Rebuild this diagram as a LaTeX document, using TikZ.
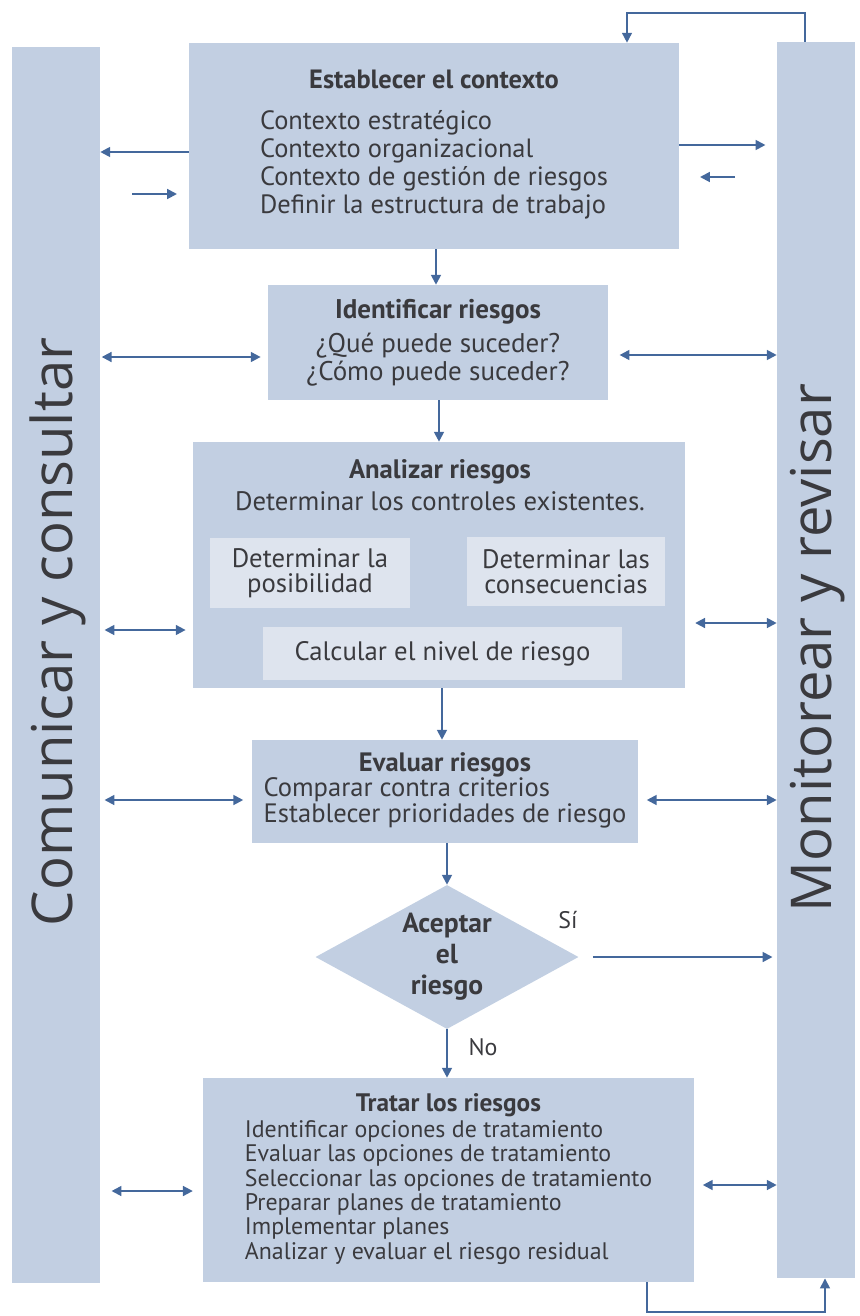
\documentclass[tikz,border=0pt]{standalone}
\usepackage{fontspec}
\setmainfont{PT Sans}
\newfontfamily\barfont{Open Sans}
\usetikzlibrary{shapes.geometric,arrows.meta}
\definecolor{boxblue}{RGB}{194,207,226}
\definecolor{innerblue}{RGB}{222,228,238}
\definecolor{lineblue}{RGB}{68,104,156}
\definecolor{inkgrey}{RGB}{58,58,62}

\begin{document}
\begin{tikzpicture}[x=0.025cm, y=-0.025cm,
    panel/.style={fill=boxblue, inner sep=0pt, text=inkgrey, align=center},
    subpanel/.style={fill=innerblue, inner sep=0pt, text=inkgrey, align=center,
      font=\fontsize{19}{18}\selectfont},
    flow/.style={draw=lineblue, line width=1.4pt, -{Triangle[length=7pt,width=7pt]}},
    both/.style={flow, {Triangle[length=7pt,width=7pt]}-{Triangle[length=7pt,width=7pt]}},
    side/.style={rotate=90, text=inkgrey, font=\barfont\fontsize{40}{44}\selectfont}]
  \useasboundingbox (0,0) rectangle (860,1316);

  % barras laterales
  \node[panel, minimum width=2.2cm, minimum height=30.875cm] (com) at (56,665) {};
  \node[panel, minimum width=1.95cm, minimum height=30.9cm] (mon) at (816,660) {};
  \node[side] (comt) at (58,632) {Comunicar y consultar};
  \node[side] (mont) at (818,648) {Monitorear y revisar};

  % etapas del proceso
  \node[panel, minimum width=12.25cm, minimum height=5.15cm,
    font=\fontsize{18.8}{20}\selectfont] (ctx) at (434,146)
    {\textbf{Establecer el contexto}\\[9pt]
     \begin{tabular}[t]{@{}l@{}}Contexto estratégico\\Contexto organizacional\\
     Contexto de gestión de riesgos\\Definir la estructura de trabajo\end{tabular}};
  \node[panel, minimum width=8.5cm, minimum height=2.875cm,
    font=\fontsize{19.2}{20}\selectfont] (ident) at (438,342.5)
    {\textbf{Identificar riesgos}\\[4pt]¿Qué puede suceder?\\¿Cómo puede suceder?};
  \node[panel, minimum width=12.3cm, minimum height=6.15cm] (anal) at (439,565) {};
  \node[text=inkgrey, align=center, font=\fontsize{19}{23}\selectfont] (analt) at (440,485)
    {\textbf{Analizar riesgos}\\Determinar los controles existentes.};
  \node[subpanel, minimum width=5cm, minimum height=1.75cm] (posib) at (310,573)
    {Determinar la\\posibilidad};
  \node[subpanel, minimum width=4.95cm, minimum height=1.725cm] (cons) at (566,571.5)
    {Determinar las\\consecuencias};
  \node[subpanel, minimum width=8.975cm, minimum height=1.325cm] (nivel) at (442.5,653.5)
    {Calcular el nivel de riesgo};
  \node[panel, minimum width=9.65cm, minimum height=2.575cm,
    font=\fontsize{18.9}{17.7}\selectfont] (eval) at (445,791.5)
    {\textbf{Evaluar riesgos}\\
     \begin{tabular}[t]{@{}l@{}}Comparar contra criterios\\Establecer prioridades de riesgo\end{tabular}};
  \node[diamond, aspect=1.83, fill=boxblue, inner sep=0pt, minimum width=6.575cm,
    minimum height=3.6cm, text=inkgrey, align=center,
    font=\bfseries\fontsize{19.6}{22}\selectfont] (acc) at (447,957) {Aceptar\\el\\riesgo};
  \node[panel, minimum width=12.275cm, minimum height=5.1cm,
    font=\fontsize{17}{17.3}\selectfont] (trat) at (448.5,1180)
    {{\bfseries\fontsize{18}{17.3}\selectfont Tratar los riesgos}\\[1pt]
     \begin{tabular}[t]{@{}l@{}}Identificar opciones de tratamiento\\
     Evaluar las opciones de tratamiento\\Seleccionar las opciones de tratamiento\\
     Preparar planes de tratamiento\\Implementar planes\\
     Analizar y evaluar el riesgo residual\end{tabular}};

  % flechas
  \draw[flow] (ctx.west |- 0,152) -- (com.east |- 0,152);
  \draw[flow] (132,194) -- (177,194);
  \draw[flow, shorten >=8pt] (ctx.east |- 0,145) -- (mon.west |- 0,145);
  \draw[flow] (735,177) -- (700,177);
  \draw[flow, line width=1.1pt] (mon.north -| 805,0) |- (627,13) -- (ctx.north -| 627,0);
  \draw[flow] (ctx.south -| 436,0) -- (ident.north -| 436,0);
  \draw[both, shorten <=1pt, shorten >=5pt] (com.east |- 0,357) -- (ident.west |- 0,357);
  \draw[both, shorten <=8pt] (ident.east |- 0,355) -- (mon.west |- 0,355);
  \draw[flow] (ident.south -| 439,0) -- (anal.north -| 439,0);
  \draw[both, shorten <=3pt, shorten >=5pt] (com.east |- 0,630) -- (anal.west |- 0,630);
  \draw[both, shorten <=7pt] (anal.east |- 0,623) -- (mon.west |- 0,623);
  \draw[flow] (anal.south -| 442,0) -- (eval.north -| 442,0);
  \draw[both, shorten <=3pt, shorten >=6pt] (com.east |- 0,800) -- (eval.west |- 0,800);
  \draw[both, shorten <=6pt] (eval.east |- 0,800) -- (mon.west |- 0,800);
  \draw[flow] (eval.south -| 447,0) -- (acc.north);
  \draw[flow, shorten <=10pt, shorten >=3pt] (acc.east) -- (acc.east -| mon.west);
  \node[text=inkgrey, font=\fontsize{17}{18}\selectfont] (si) at (568,920) {Sí};
  \draw[flow] (acc.south) -- (trat.north -| acc.south);
  \node[text=inkgrey, font=\fontsize{17}{18}\selectfont] (no) at (483,1047) {No};
  \draw[both, shorten <=8pt, shorten >=7pt] (com.east |- 0,1191) -- (trat.west |- 0,1191);
  \draw[both, shorten <=6pt] (trat.east |- 0,1185) -- (mon.west |- 0,1185);
  \draw[flow, line width=1.1pt] (trat.south -| 647,0) |- (825,1312) -- (mon.south -| 825,0);
\end{tikzpicture}
\end{document}
